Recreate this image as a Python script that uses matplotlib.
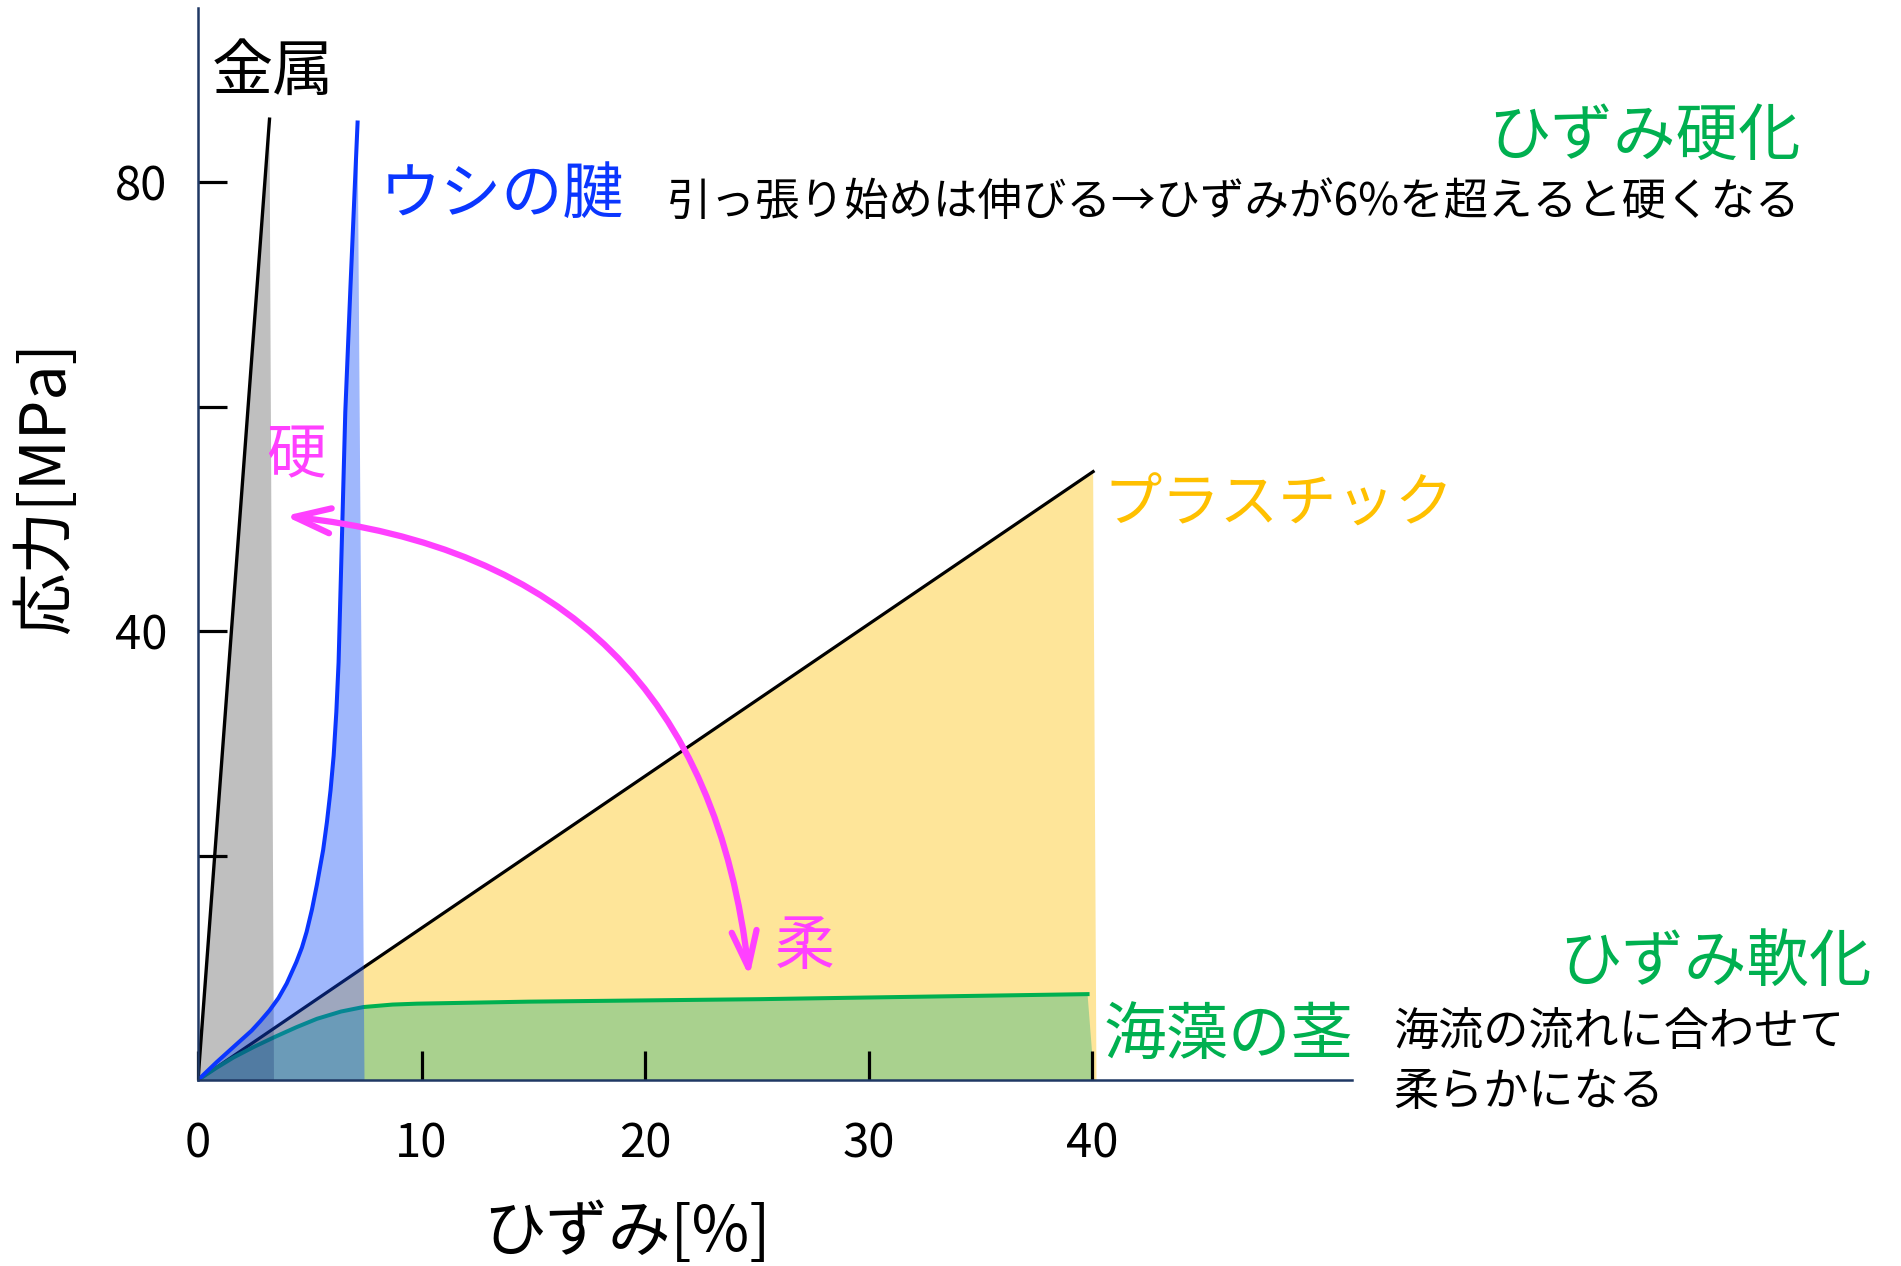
import matplotlib.pyplot as plt
from matplotlib.patches import FancyArrowPatch

plt.rcParams['font.family'] = ['Noto Sans CJK JP', 'DejaVu Sans']

# stress-strain curves (strain %, stress MPa)
metal_strain = [0, 3.2]
metal_stress = [0, 85.6]
metal_fill_end = 3.4

tendon_strain = [0, 0.84, 1.73, 2.4, 2.77, 3.2, 3.6, 3.97, 4.4, 4.65, 4.86, 5.1, 5.32, 5.6, 5.77,
                 5.93, 6.07, 6.19, 6.29, 6.44, 6.59, 6.82, 7.14]
tendon_stress = [0, 1.6, 3.2, 4.4, 5.2, 6.2, 7.3, 8.6, 10.5, 11.8, 13.2, 15.2, 17.4, 20.5, 23.0,
                 25.8, 28.9, 32.8, 37.2, 48.3, 59.5, 70.6, 85.3]
tendon_fill_end = 7.45

plastic_strain = [0, 40.05]
plastic_stress = [0, 54.2]
plastic_fill_end = 40.2

seaweed_strain = [0, 0.8, 1.58, 2.5, 3.45, 4.4, 5.32, 6.4, 7.4, 8.7, 9.8, 14.8, 25.1, 39.8]
seaweed_stress = [0, 1.05, 2.0, 2.95, 3.85, 4.7, 5.45, 6.1, 6.5, 6.72, 6.8, 6.98, 7.2, 7.65]
seaweed_fill_end = 40.1

x_ticks = [0, 10, 20, 30, 40]
x_ticklabels = ['0', '10', '20', '30', '40']
y_ticks = [20, 40, 60, 80]
y_ticklabels = ['', '40', '', '80']

fig = plt.figure(figsize=(19.01, 12.66), dpi=100)
ax = fig.add_axes([198 / 1901, 186 / 1266, 1154 / 1901, 1072 / 1266])
ax.set_xlim(0, 1154 / 22.35)
ax.set_ylim(0, 1072 / 11.225)

# areas under the curves
ax.fill(plastic_strain + [plastic_fill_end], plastic_stress + [0], color='#fee599', lw=0, zorder=1.0)
ax.fill(seaweed_strain + [seaweed_fill_end], seaweed_stress + [0], color='#a9d18e', lw=0, zorder=1.1)
ax.plot(plastic_strain, plastic_stress, color='black', lw=2.3, zorder=1.2)
ax.plot(seaweed_strain, seaweed_stress, color='#00b050', lw=2.9, zorder=1.2)
ax.fill(metal_strain + [metal_fill_end], metal_stress + [0], color='black', alpha=0.25, lw=0, zorder=1.3)
ax.plot(metal_strain, metal_stress, color='black', lw=2.4, zorder=1.4)
ax.fill(tendon_strain + [tendon_fill_end], tendon_stress + [0], color=(15/255, 75/255, 248/255),
        alpha=0.4, lw=0, zorder=1.5)
ax.plot(tendon_strain, tendon_stress, color='#0a36ff', lw=2.9, zorder=1.6, solid_joinstyle='round')

# axes styling
for s in ['top', 'right']:
    ax.spines[s].set_visible(False)
for s in ['left', 'bottom']:
    ax.spines[s].set_color('#1f3864')
    ax.spines[s].set_linewidth(1.8)
ax.set_xticks(x_ticks)
ax.set_xticklabels(x_ticklabels)
ax.set_yticks(y_ticks)
ax.set_yticklabels(y_ticklabels)
ax.tick_params(axis='both', direction='in', length=21, width=2.3, color='black', labelsize=34)
ax.tick_params(axis='x', pad=29)
ax.tick_params(axis='y', pad=22)

fig.text(46 / 1901, 1 - 488 / 1266, '応力[MPa]', rotation=90, fontsize=45, ha='center', va='center')
fig.text(627 / 1901, 1 - 1233 / 1266, 'ひずみ[%]', fontsize=45, ha='center', va='center')

# labels
ax.text(0.63, 89.7, '金属', fontsize=44, color='black', ha='left', va='center')
ax.text(8.15, 78.8, 'ウシの腱', fontsize=44, color='#0a36ff', ha='left', va='center')
ax.text(21.0, 78.2, '引っ張り始めは伸びる→ひずみが6%を超えると硬くなる', fontsize=32,
        color='black', ha='left', va='center')
ax.text(71.7, 84.0, 'ひずみ硬化', fontsize=45, color='#00b050', ha='right', va='center', clip_on=False)
ax.text(40.5, 51.2, 'プラスチック', fontsize=42, color='#ffc000', ha='left', va='center')
ax.text(40.5, 3.8, '海藻の茎', fontsize=45, color='#00b050', ha='left', va='center')
ax.text(74.9, 10.4, 'ひずみ軟化', fontsize=45, color='#00b050', ha='right', va='center', clip_on=False)
ax.text(53.5, 4.2, '海流の流れに合わせて', fontsize=32.5, color='black', ha='left', va='center', clip_on=False)
ax.text(53.5, -1.1, '柔らかになる', fontsize=32.5, color='black', ha='left', va='center', clip_on=False)
ax.text(3.05, 55.5, '硬', fontsize=43, color='#ff40ff', ha='left', va='center')
ax.text(25.8, 11.8, '柔', fontsize=43, color='#ff40ff', ha='left', va='center')

arrow = FancyArrowPatch(posA=(3.89, 50.25), posB=(24.67, 9.2),
                        arrowstyle='<->,head_length=26,head_width=9',
                        connectionstyle='arc3,rad=-0.4', color='#ff40ff', lw=4.5,
                        mutation_scale=1, shrinkA=0, shrinkB=0, zorder=5)
ax.add_patch(arrow)

fig.savefig('out.png', dpi=100)
